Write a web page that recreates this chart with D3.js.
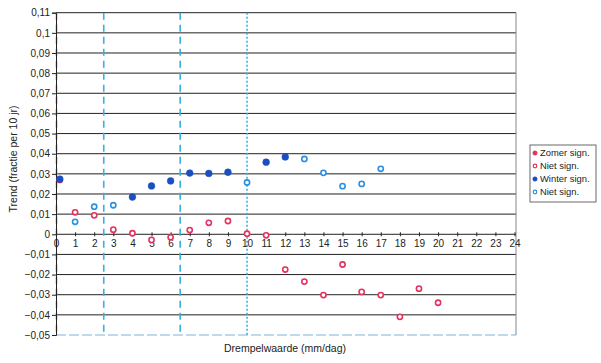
<!DOCTYPE html>
<html>
<head>
<meta charset="utf-8">
<script src="https://cdn.jsdelivr.net/npm/d3@7"></script>
<style>
  html, body { margin: 0; padding: 0; background: #fff; }
  svg { display: block; font-family: "Liberation Sans", Arial, sans-serif; }
</style>
</head>
<body>
<svg id="chart" width="601" height="363"></svg>
<script>
// Drempelwaarde (mm/dag) per reeks en bijbehorende trend (fractie per 10 jr)
const zomerSignX = [];
const zomerSignY = [];
const zomerNietX = [0.2, 1, 2, 3, 4, 5, 6, 7, 8, 9, 10, 11, 12, 13, 14, 15, 16, 17, 18, 19, 20];
const zomerNietY = [0.027, 0.0109, 0.0094, 0.0023, 0.0005, -0.0028, -0.0015, 0.0021, 0.0057, 0.0066, 0.0003, -0.0005,
                    -0.0175, -0.0235, -0.0302, -0.015, -0.0286, -0.0302, -0.041, -0.027, -0.034];
const winterSignX = [0.2, 4, 5, 6, 7, 8, 9, 11, 12];
const winterSignY = [0.0274, 0.0185, 0.024, 0.0265, 0.0304, 0.0302, 0.0308, 0.0358, 0.0384];
const winterNietX = [1, 2, 3, 10, 13, 14, 15, 16, 17];
const winterNietY = [0.0062, 0.0137, 0.0144, 0.0257, 0.0374, 0.0305, 0.0239, 0.025, 0.0325];

const xTicks = d3.range(0, 25);
const yTicks = [0.11, 0.1, 0.09, 0.08, 0.07, 0.06, 0.05, 0.04, 0.03, 0.02, 0.01, 0, -0.01, -0.02, -0.03, -0.04, -0.05];
const legendLabels = ["Zomer sign.", "Niet sign.", "Winter sign.", "Niet sign."];
const scanLines = [0, 2.5, 6.5, 10]; // lichtblauwe verticale hulplijnen

const svg = d3.select("#chart");
const plotL = 56, plotR = 516, plotT = 12.7, plotB = 335;
const x = d3.scaleLinear().domain([0, 24]).range([plotL, 514.5]);
const y = d3.scaleLinear().domain([-0.05, 0.11]).range([plotB, plotT]);
const fmt = v => (Math.abs(v) < 1e-9 ? "0" : d3.format("~g")(+v.toFixed(2)).replace(".", ","));

const red = "#e5325f", blueDark = "#1b4fc0", blueLight = "#2c8fe0";

// horizontale rasterlijnen
svg.append("g").selectAll("line").data(yTicks).join("line")
  .attr("x1", plotL).attr("x2", plotR)
  .attr("y1", d => y(d)).attr("y2", d => y(d))
  .attr("stroke", d => d === -0.05 ? "#7fb4d8" : "#222")
  .attr("stroke-width", d => d === -0.05 ? 1.2 : 1)
  .attr("stroke-dasharray", d => d === -0.05 ? "10,3" : null);

// rechterrand
svg.append("line").attr("x1", plotR).attr("x2", plotR).attr("y1", plotT).attr("y2", plotB)
  .attr("stroke", "#888").attr("stroke-width", 1);

// lichtblauwe gestreepte verticale lijnen
svg.append("g").selectAll("line").data(scanLines).join("line")
  .attr("x1", d => x(d) + (d === 0 ? 0.5 : 0)).attr("x2", d => x(d) + (d === 0 ? 0.5 : 0))
  .attr("y1", plotT).attr("y2", plotB)
  .attr("stroke", "#39b0e0").attr("stroke-width", 1.6)
  .attr("stroke-dasharray", d => d === 10 ? "2,2" : "7,5");

// y-as
const yAxis = d3.axisLeft(y).tickValues(yTicks).tickSize(4).tickFormat(fmt);
const gy = svg.append("g").attr("transform", `translate(${plotL},0)`).call(yAxis);
gy.select(".domain").attr("stroke", "#222");
gy.selectAll(".tick line").attr("stroke", "#222");
gy.selectAll(".tick text").attr("font-size", 10).attr("fill", "#222").attr("x", -6);

// x-as op de nullijn
const xAxis = d3.axisBottom(x).tickValues(xTicks).tickSize(3).tickFormat(d => d);
const gx = svg.append("g").attr("transform", `translate(0,${y(0)})`).call(xAxis);
gx.select(".domain").remove();
gx.selectAll(".tick line").attr("stroke", "#222").attr("y1", -2).attr("y2", 2);
gx.selectAll(".tick text").attr("font-size", 10).attr("fill", "#222").attr("y", 5).attr("dy", "0.8em");

// aslabels
svg.append("text").attr("transform", "translate(17,159) rotate(-90)")
  .attr("text-anchor", "middle").attr("font-size", 10.5).attr("fill", "#222")
  .text("Trend (fractie per 10 jr)");
svg.append("text").attr("x", 285).attr("y", 352).attr("text-anchor", "middle")
  .attr("font-size", 10.5).attr("fill", "#222").text("Drempelwaarde (mm/dag)");

// punten
function pts(xs, ys, color, filled) {
  svg.append("g").selectAll("circle").data(xs.map((v, i) => [v, ys[i]])).join("circle")
    .attr("cx", d => x(d[0])).attr("cy", d => y(d[1]))
    .attr("r", filled ? 3.4 : 2.6)
    .attr("fill", filled ? color : "#fff")
    .attr("stroke", color).attr("stroke-width", filled ? 0.5 : 1.6);
}
pts(zomerNietX, zomerNietY, red, false);
pts(zomerSignX, zomerSignY, red, true);
pts(winterNietX, winterNietY, blueLight, false);
pts(winterSignX, winterSignY, blueDark, true);

// legenda
const lg = svg.append("g").attr("transform", "translate(530,145)");
lg.append("rect").attr("width", 66).attr("height", 57).attr("fill", "#fff")
  .attr("stroke", "#444").attr("stroke-width", 0.8);
const styles = [[red, true], [red, false], [blueDark, true], [blueLight, false]];
legendLabels.forEach((t, i) => {
  const cy = 8 + i * 13;
  lg.append("circle").attr("cx", 5).attr("cy", cy).attr("r", styles[i][1] ? 2.3 : 1.8)
    .attr("fill", styles[i][1] ? styles[i][0] : "#fff")
    .attr("stroke", styles[i][0]).attr("stroke-width", styles[i][1] ? 0.4 : 1.2);
  lg.append("text").attr("x", 10).attr("y", cy + 3.4).attr("font-size", 9.4).attr("fill", "#222").text(t);
});
</script>
</body>
</html>
